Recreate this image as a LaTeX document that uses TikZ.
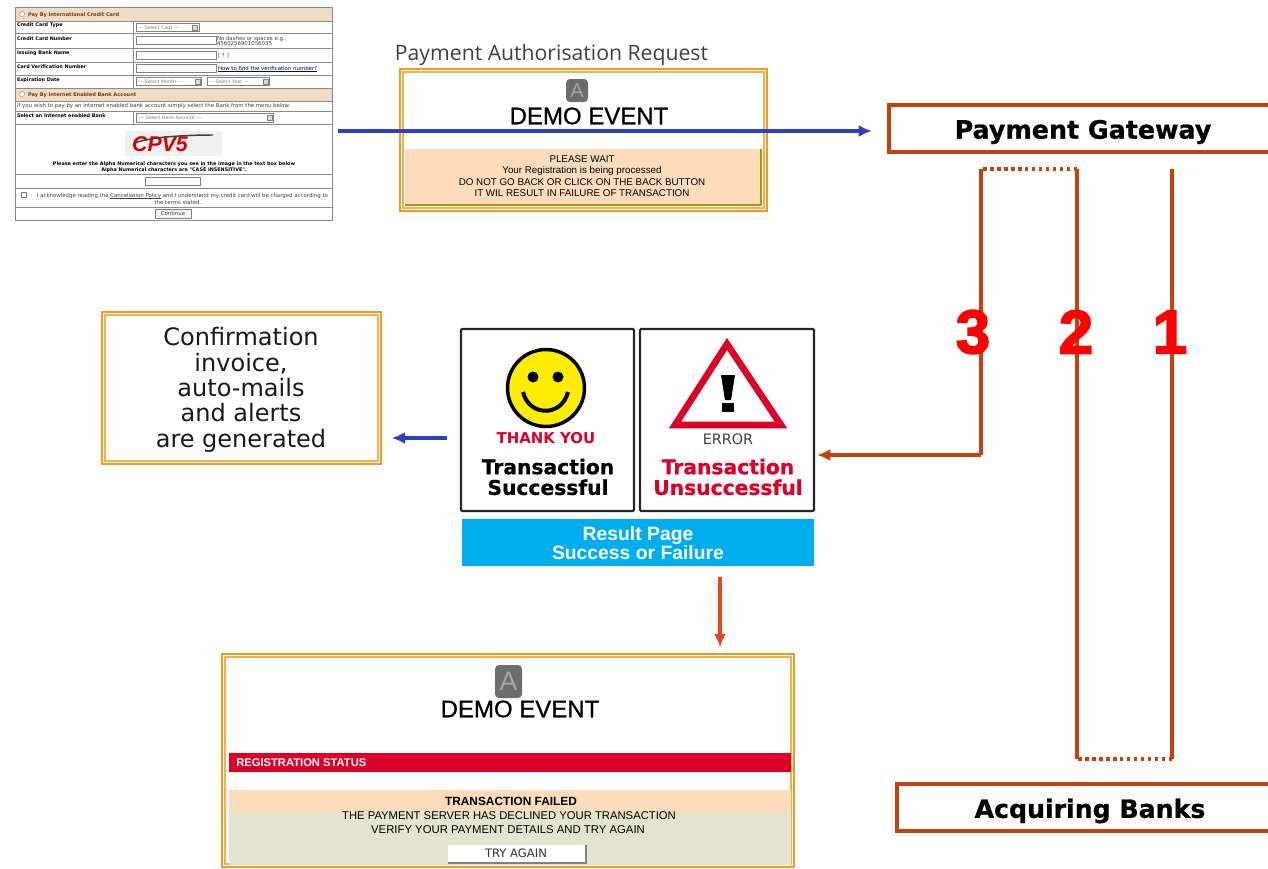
\documentclass[tikz,border=0pt]{standalone}
\usepackage{fontspec}
\setmainfont{Liberation Sans}
\newfontfamily\vd{DejaVu Sans}
\newfontfamily\os{Open Sans}
\newfontfamily\fb[FakeBold=0.8]{Liberation Sans}
\newfontfamily\numf[FakeBold=3]{Liberation Sans}
\newfontfamily\vdh[FakeBold=0.8]{DejaVu Sans}
\usetikzlibrary{arrows.meta}
\newcommand{\tinyul}[1]{\setbox0\hbox{#1}\rlap{\rule[-0.5pt]{\wd0}{0.15pt}}\box0\relax}
\definecolor{orng}{HTML}{F39A1E}
\definecolor{orlt}{HTML}{F6B04A}
\definecolor{peach}{HTML}{FDDCBB}
\definecolor{sage}{HTML}{E3E4CF}
\definecolor{rust}{HTML}{C8400F}
\definecolor{hot}{HTML}{EA4417}
\definecolor{blu}{HTML}{2F3FC8}
\definecolor{sky}{HTML}{00AEEF}
\definecolor{crim}{HTML}{DC0028}
\definecolor{tan}{HTML}{EEDCC4}
\definecolor{grid}{HTML}{8A8A8A}
\definecolor{brn}{HTML}{7A3A10}
\definecolor{olive}{HTML}{B8900A}
\tikzset{
 px/.style 2 args={minimum width=#1*0.75pt,minimum height=#2*0.75pt,inner sep=0pt,outer sep=0pt,anchor=north west},
 txt/.style={inner sep=0pt,outer sep=0pt,align=center,font=\fontsize{8}{10}\selectfont},
 lab/.style={inner sep=0pt,outer sep=0pt,anchor=west,font=\vd\bfseries\fontsize{3.65}{4}\selectfont},
 plain/.style={inner sep=0pt,outer sep=0pt,anchor=west,font=\vd\fontsize{4.05}{5}\selectfont,text=black!75},
 sel/.style={inner sep=0pt,outer sep=0pt,anchor=west,font=\vd\fontsize{3.6}{5}\selectfont,text=gray},
 head/.style={inner sep=0pt,outer sep=0pt,anchor=west,font=\vd\bfseries\fontsize{3.75}{4}\selectfont,text=brn},
 cell/.style={draw=grid,line width=.6pt},
 field/.style={draw=gray,fill=white,line width=.4pt},
 drop/.style={draw=gray,fill=gray!30,line width=.3pt},
 framed/.style={draw=orng,line width=1.8pt,fill=white},
 inframe/.style={draw=orlt,line width=1.5pt},
 wire/.style={draw=rust,line width=2.5pt},
 dots/.style={draw=rust,line width=2.5pt,dash pattern=on 2.6pt off 2.6pt},
 bluearrow/.style={draw=blu,line width=2.5pt,-{Latex[length=10pt,width=9pt]}},
 redarrow/.style={draw=rust,line width=2.4pt,-{Latex[length=10pt,width=9pt]}},
 bar/.style={draw=rust,line width=3pt,fill=white},
 numeral/.style={inner sep=0pt,outer sep=0pt,text=red,font=\numf\bfseries\fontsize{46}{46}\selectfont},
 resbox/.style={draw=black!85,line width=1.6pt,fill=white,rounded corners=.8pt},
 logo/.style={fill=gray!85!black,rounded corners=3pt},
}
\begin{document}
\begin{tikzpicture}[x=0.75pt,y=-0.75pt]
\useasboundingbox (0,0) rectangle (1268,868);
\clip (0,0) rectangle (1268,868);
\fill[white] (0,0) rectangle (1268,868);

% form
\node[px={317}{213},cell,fill=white] (form) at (15,7) {};
\node[px={317}{14},cell,fill=tan] (h1) at (15,7) {};
\node[px={317}{13},cell,fill=tan] (h2) at (15,88) {};
\node[px={118}{12},cell] (r1) at (15,21) {};
\node[px={118}{15},cell] (r2) at (15,33) {};
\node[px={118}{14},cell] (r3) at (15,48) {};
\node[px={118}{13},cell] (r4) at (15,62) {};
\node[px={118}{13},cell] (r5) at (15,75) {};
\node[px={199}{12},cell] (q1) at (133,21) {};
\node[px={199}{15},cell] (q2) at (133,33) {};
\node[px={199}{14},cell] (q3) at (133,48) {};
\node[px={199}{13},cell] (q4) at (133,62) {};
\node[px={199}{13},cell] (q5) at (133,75) {};
\node[px={317}{10},cell] (r6) at (15,101) {};
\node[px={118}{13},cell] (r7) at (15,111) {};
\node[px={199}{13},cell] (q7) at (133,111) {};
\node[px={317}{14},cell] (r8) at (15,174) {};
\node[px={317}{19},cell] (r9) at (15,188) {};
\node[head] (t1) at (28,15) {Pay By International Credit Card};
\node[head] (t2) at (28,95) {Pay By Internet Enabled Bank Account};
\draw[gray,fill=white,line width=.3pt] (22,14) circle (2.5);
\draw[gray,fill=white,line width=.3pt] (22,94) circle (2.5);
\node[lab] (l1) at (17,25.5) {Credit Card Type};
\node[lab] (l2) at (17,38.5) {Credit Card Number};
\node[lab] (l3) at (17,53.5) {Issuing Bank Name};
\node[lab] (l4) at (17,67) {Card Verification Number};
\node[lab] (l5) at (17,80) {Expiration Date};
\node[lab] (l7) at (17,116) {Select an Internet enabled Bank};
\node[plain] (l6) at (17,106) {If you wish to pay by an internet enabled bank account simply select the Bank from the menu below.};
\node[px={63}{8},field] (f1) at (136,23.5) {};
\node[sel] at (138,27.5) {--- Select Card ---};
\node[px={5}{5},drop] at (192,25) {};
\node[px={80}{8},field] (f2) at (136,36) {};
\node[px={80}{8},field] (f3) at (136,51) {};
\node[px={80}{8},field] (f4) at (136,64) {};
\node[px={65}{8},field] (f5) at (136,77.5) {};
\node[sel] at (138,81.5) {--- Select Month ---};
\node[px={5}{5},drop] at (195,79) {};
\node[px={62}{8},field] (f6) at (207,77.5) {};
\node[sel] at (209,81.5) {--- Select Year ---};
\node[px={5}{5},drop] at (263,79) {};
\node[px={137}{9},field] (f7) at (136,113) {};
\node[sel] at (139,117.5) {--- Select Bank Account ---};
\node[px={5}{5},drop] at (267,115) {};
\node[plain] at (217,39) {No dashes or spaces e.g.,};
\node[plain] at (217,44) {4560256901056035};
\node[plain] at (218,56) {[ ? ]};
\node[plain,text=blue!40!black] at (218,69) {\tinyul{How to find the verification number?}};
% captcha
\node[px={97}{25},fill=gray!12] (capt) at (125,131) {};
\node[inner sep=0pt,text=red!85!black,font=\bfseries\itshape\fontsize{16}{16}\selectfont] (captxt) at (160,144) {CPV5};
\draw[black!75,line width=1.1pt] (135,143) .. controls (150,137) and (185,135) .. (213,135);
\node[lab,anchor=center] (p1) at (174,164) {Please enter the Alpha Numerical characters you see in the image in the text box below};
\node[lab,anchor=center] (p2) at (174,170) {Alpha Numerical characters are "CASE INSENSITIVE".};
\node[px={55}{8},field] (f8) at (145,177) {};
\node[px={5}{5},field] (f9) at (21,192) {};
\node[plain] (p3) at (37,196) {I acknowledge reading the \tinyul{Cancellation Policy} and I understand my credit card will be charged according to};
\node[plain,anchor=center] (p4) at (178,202.5) {the terms stated.};
\node[px={36}{9},field,fill=gray!8] (cont) at (155,209) {};
\node[plain,anchor=center] at (173,213.5) {Continue};

% payment request
\node[inner sep=0pt,text=black!75,font=\os\fontsize{15.9}{18}\selectfont] (title) at (551.5,54.5) {Payment Authorisation Request};
\node[px={367}{142},framed] (req) at (400,69) {};
\node[px={361}{136},inframe] (reqin) at (403,72) {};
\node[px={356}{56},fill=peach] (reqp) at (405,149) {};
\draw[olive,line width=1pt] (reqp.north east) -- (reqp.south east) -- (reqp.south west);
\node[px={22}{23},logo] (logoa) at (566,79) {};
\node[txt,text=gray!70,font=\fontsize{15}{15}\selectfont] at (logoa) {A};
\node[txt,font=\fb\fontsize{18}{20}\selectfont] (demoa) at (589,116) {DEMO EVENT};
\node[txt,font=\fontsize{7.35}{8.5}\selectfont] (wait) at (582,176) {PLEASE WAIT\\Your Registration is being processed\\DO NOT GO BACK OR CLICK ON THE BACK BUTTON\\IT WIL RESULT IN FAILURE OF TRANSACTION};

% gateway & banks
\node[px={420}{47},bar] (gw) at (889,105) {};
\node[inner sep=0pt,font=\vdh\bfseries\fontsize{19}{20}\selectfont] (gwt) at (1083,132) {Payment Gateway};
\node[px={420}{47},bar] (ab) at (897,784) {};
\node[inner sep=0pt,font=\vdh\bfseries\fontsize{18.9}{20}\selectfont] (abt) at (1090,811) {Acquiring Banks};

% wires
\coordinate (a1) at (1172,169);
\coordinate (a2) at (1172,759);
\coordinate (b2) at (1077,759);
\coordinate (b1) at (1077,169);
\coordinate (c1) at (981,169);
\coordinate (c2) at (981,455);
\draw[wire] (a1) -- (a2);
\draw[dots] (a2) -- (b2);
\draw[wire] (b2) -- (b1);
\draw[dots] (b1) -- (c1);
\draw[wire] (c1) -- (c2);
\node[numeral] (n3) at (973,332) {3};
\node[numeral] (n2) at (1076,332) {2};
\node[numeral] (n1) at (1170,332) {1};

% result page
\node[px={173}{182},resbox] (ok) at (461,329) {};
\node[px={174}{182},resbox] (err) at (640,329) {};
\node[px={352}{47},fill=sky] (res) at (462,519) {};
\draw[black,line width=2.6pt,fill=yellow!95!orange] (546,388) circle (38.5);
\fill[black] (533,377) circle (5.5);
\fill[black] (558,377) circle (5.5);
\draw[black,line width=3pt] (523,392) .. controls (529,417) and (562,417) .. (568,392);
\draw[crim,line width=5pt,fill=white,line join=miter] (727,344) -- (675,425) -- (781,425) -- cycle;
\fill[black] (721,375) -- (735,375) -- (731,400) -- (725,400) -- cycle;
\fill[black] (722,403) rectangle (734,412);
\node[inner sep=0pt,text=crim,font=\vd\bfseries\fontsize{11.2}{12}\selectfont] (ty) at (546,438) {THANK YOU};
\node[txt,font=\vdh\bfseries\fontsize{15.2}{15.5}\selectfont] (ts) at (548,477) {Transaction\\Successful};
\node[inner sep=0pt,text=black!75,font=\vd\fontsize{10.8}{11}\selectfont] (er) at (728,439) {ERROR};
\node[txt,text=crim,font=\vdh\bfseries\fontsize{15.2}{15.5}\selectfont] (tu) at (728,477) {Transaction\\Unsuccessful};
\node[txt,text=white,font=\bfseries\fontsize{14.5}{13}\selectfont] (rt) at (638,543) {Result Page\\Success or Failure};

% confirmation
\node[px={279}{152},framed] (conf) at (102,312) {};
\node[px={273}{146},inframe] (confin) at (105,315) {};
\node[txt,font=\vd\fontsize{18}{19}\selectfont,text=black!90] (conft) at (241,390) {Confirmation\\invoice,\\auto-mails\\and alerts\\are generated};

% status page
\node[px={572}{213},framed] (st) at (222,654) {};
\node[px={566}{207},inframe] (stin) at (225,657) {};
\node[px={562}{19},fill=crim] (stbar) at (229,753) {};
\node[px={562}{23},fill=peach] (stp) at (229,790) {};
\node[px={562}{52},fill=sage] (stg) at (229,813) {};
\node[px={27}{33},logo] (logob) at (495,665) {};
\node[txt,text=gray!70,font=\fontsize{20}{20}\selectfont] at (logob) {A};
\node[txt,font=\fb\fontsize{18}{20}\selectfont] (demob) at (520,709) {DEMO EVENT};
\node[inner sep=0pt,anchor=west,text=white,font=\bfseries\fontsize{8.4}{10}\selectfont] (regs) at (236,763) {REGISTRATION STATUS};
\node[inner sep=0pt,font=\bfseries\fontsize{8.9}{10}\selectfont] (tf) at (511,801) {TRANSACTION FAILED};
\node[inner sep=0pt,font=\fontsize{8.45}{10}\selectfont] (tf2) at (509,816) {THE PAYMENT SERVER HAS DECLINED YOUR TRANSACTION};
\node[inner sep=0pt,font=\fontsize{8.5}{10}\selectfont] (tf3) at (508,830) {VERIFY YOUR PAYMENT DETAILS AND TRY AGAIN};
\node[px={138}{18},fill=white] (tryb) at (448,845) {};
\draw[gray,line width=1pt] (tryb.north east) -- (tryb.south east) -- (tryb.south west);
\node[inner sep=0pt,text=black!80,font=\vd\fontsize{8.7}{9}\selectfont] (tryt) at (516,853.5) {TRY AGAIN};

% connectors
\coordinate (bs) at (338,131);
\draw[bluearrow,shorten >=12.75pt] (bs) -- (gw.west |- bs);
\draw[redarrow,shorten >=2.25pt] (c2) -- (err.east |- c2);
\coordinate (rs) at (447,438);
\draw[bluearrow,shorten >=8pt] (rs) -- (conf.east |- rs);
\coordinate (dn) at (720,577);
\draw[redarrow,draw=hot,shorten >=5pt] (dn) -- (dn |- st.north);
\end{tikzpicture}
\end{document}
